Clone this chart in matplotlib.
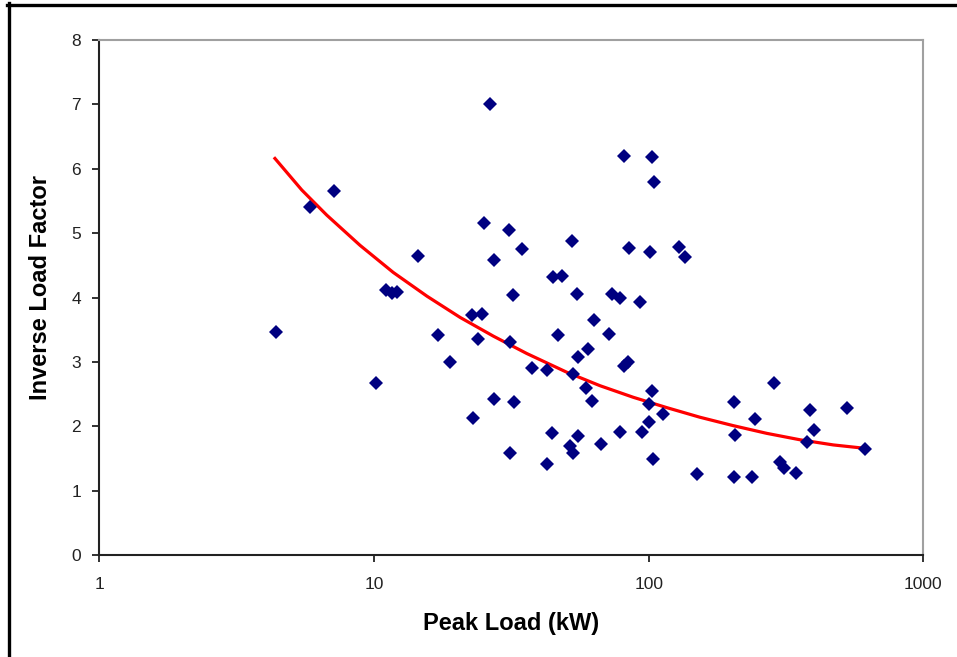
import matplotlib
matplotlib.use('Agg')
import matplotlib.pyplot as plt
from matplotlib.lines import Line2D
from matplotlib.ticker import FixedLocator, FixedFormatter, NullLocator

plt.rcParams['font.family'] = ['Liberation Sans', 'DejaVu Sans']

# measured points (peak load kW, inverse load factor)
peak_load = [4.40, 5.85, 7.17, 10.2, 11.1, 11.6, 12.1, 14.5, 17.1, 18.9,
             22.7, 23.0, 24.0, 24.7, 25.2, 26.4, 27.3, 27.4, 30.9, 31.3,
             31.3, 32.0, 32.3, 34.7, 37.7, 42.5, 42.5, 44.6, 44.9, 46.9,
             48.2, 51.7, 52.6, 52.9, 53.2, 54.7, 55.2, 55.4, 59.1, 60.3,
             62.2, 63.4, 66.9, 71.5, 73.3, 78.6, 78.6, 81.1, 81.3, 83.8,
             84.6, 92.7, 94.8, 100.2, 100.5, 101.4, 102.5, 102.5, 104.0, 104.5,
             112.5, 129.2, 135.5, 149.6, 204, 205, 207, 238, 243, 287,
             300, 311, 344, 376, 386, 401, 526, 613]
inv_load_factor = [3.46, 5.40, 5.66, 2.67, 4.11, 4.07, 4.09, 4.64, 3.41, 3.00,
                   3.73, 2.13, 3.35, 3.74, 5.16, 7.00, 4.59, 2.43, 5.05, 3.31,
                   1.58, 4.04, 2.38, 4.76, 2.91, 2.87, 1.41, 1.90, 4.32, 3.42,
                   4.34, 1.69, 4.87, 1.58, 2.81, 4.06, 3.07, 1.85, 2.59, 3.20,
                   2.40, 3.65, 1.72, 3.43, 4.06, 3.99, 1.91, 6.20, 2.93, 3.00,
                   4.77, 3.93, 1.91, 2.07, 2.34, 4.70, 6.19, 2.54, 1.49, 5.79,
                   2.19, 4.78, 4.63, 1.26, 1.21, 2.37, 1.86, 1.21, 2.12, 2.67,
                   1.45, 1.35, 1.28, 1.76, 2.25, 1.94, 2.29, 1.65]

# trend line
trend_x = [4.36, 5.46, 6.73, 8.90, 11.75, 15.6, 20.6, 27.2, 36.0, 50.3,
           66.5, 87.9, 116.3, 153.7, 203, 269, 355.6, 470, 604]
trend_y = [6.16, 5.67, 5.28, 4.81, 4.39, 4.02, 3.69, 3.40, 3.13, 2.84,
           2.63, 2.45, 2.29, 2.14, 2.01, 1.89, 1.79, 1.71, 1.66]

x_ticks = [1, 10, 100, 1000]
y_ticks = [0, 1, 2, 3, 4, 5, 6, 7, 8]

fig = plt.figure(figsize=(9.57, 6.57), dpi=100)
ax = fig.add_axes([99.3 / 957, 1 - 555 / 657, (923.3 - 99.3) / 957, (555 - 40) / 657])

ax.plot(trend_x, trend_y, color='#FF0000', lw=2.3, zorder=2)
ax.plot(peak_load, inv_load_factor, 'D', color='#000080', ms=7.3, mew=0, zorder=3)

ax.set_xscale('log')
ax.set_xlim(1, 1000)
ax.set_ylim(0, 8)
ax.xaxis.set_major_locator(FixedLocator(x_ticks))
ax.xaxis.set_major_formatter(FixedFormatter([str(t) for t in x_ticks]))
ax.xaxis.set_minor_locator(NullLocator())
ax.set_yticks(y_ticks)

ax.tick_params(axis='x', direction='out', length=5, width=1.3, pad=11, labelsize=12.5, colors='#222222')
ax.tick_params(axis='y', direction='out', length=5, width=1.3, pad=8, labelsize=12.5, colors='#222222')

for s in ['left', 'bottom']:
    ax.spines[s].set_color('#222222')
    ax.spines[s].set_linewidth(1.5)
for s in ['top', 'right']:
    ax.spines[s].set_color('#A0A0A0')
    ax.spines[s].set_linewidth(1.5)

ax.set_xlabel('Peak Load (kW)', fontsize=17, fontweight='bold', labelpad=14)
ax.set_ylabel('Inverse Load Factor', fontsize=17, fontweight='bold')
ax.yaxis.set_label_coords(-0.057, 0.52)

# frame lines at the top and left edge of the picture
fig.add_artist(Line2D([8.5 / 957, 8.5 / 957], [1 - 3 / 657, 0], color='black', lw=2.4,
                      transform=fig.transFigure))
fig.add_artist(Line2D([7 / 957, 1], [1 - 4.5 / 657, 1 - 4.5 / 657], color='black', lw=2.4,
                      transform=fig.transFigure))

plt.savefig('out.png', dpi=100)
plt.close()
